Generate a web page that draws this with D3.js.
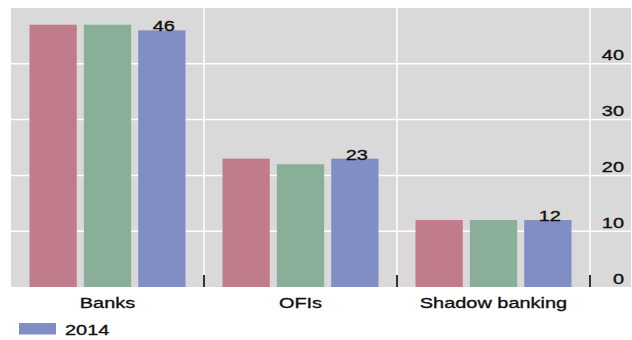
<!DOCTYPE html>
<html>
<head>
<meta charset="utf-8">
<script src="https://cdn.jsdelivr.net/npm/d3@7"></script>
<style>
  html, body { margin: 0; padding: 0; background: #fff; }
  svg { display: block; }
  text { font-family: "Liberation Sans", Arial, sans-serif; fill: #111; stroke: #111; stroke-width: 0.35px; }
</style>
</head>
<body>
<svg id="chart" width="632" height="340"></svg>
<script>
// Sector shares, by year
const categories = ["Banks", "OFIs", "Shadow banking"];
const seriesNames = ["2012", "2013", "2014"];
const values2012 = [47, 23, 12];
const values2013 = [47, 22, 12];
const values2014 = [46, 23, 12];
const yTicks = [0, 10, 20, 30, 40];
const labelledSeries = "2014";
const legendSeries = ["2014"];

const seriesValues = { "2012": values2012, "2013": values2013, "2014": values2014 };
const colors = { "2012": "#c17c8c", "2013": "#8aaf98", "2014": "#818ec6" };

const svg = d3.select("#chart");
const plot = { left: 11, right: 631, top: 8, bottom: 287 };
const bandsRight = 590;
const sx = 1.33; // horizontal text stretch

const x0 = d3.scaleBand().domain(categories).range([plot.left, bandsRight]).paddingInner(0).paddingOuter(0);
const x1 = d3.scaleBand().domain(seriesNames).range([0, x0.bandwidth()]).paddingInner(0.13).paddingOuter(0.34);
const y = d3.scaleLinear().domain([0, 50]).range([plot.bottom, plot.top]);

// panel background
svg.append("rect")
  .attr("x", plot.left).attr("y", plot.top)
  .attr("width", plot.right - plot.left).attr("height", plot.bottom - plot.top)
  .attr("fill", "#d9d9d9");

// horizontal gridlines
svg.append("g").selectAll("line").data(yTicks.filter(d => d > 0)).join("line")
  .attr("x1", plot.left).attr("x2", plot.right)
  .attr("y1", d => y(d)).attr("y2", d => y(d))
  .attr("stroke", "#fff").attr("stroke-width", 1.5);

// category separators
const seps = categories.slice(1).map(c => x0(c)).concat([bandsRight]);
svg.append("g").selectAll("line").data(seps).join("line")
  .attr("x1", d => d).attr("x2", d => d)
  .attr("y1", plot.top).attr("y2", plot.bottom)
  .attr("stroke", "#fff").attr("stroke-width", 1.5);

// bars
const groups = svg.append("g").selectAll("g").data(categories).join("g")
  .attr("transform", c => `translate(${x0(c)},0)`);
groups.selectAll("rect")
  .data((c, i) => seriesNames.map(s => ({ s, v: seriesValues[s][i] })))
  .join("rect")
  .attr("x", d => x1(d.s))
  .attr("width", x1.bandwidth())
  .attr("y", d => y(d.v))
  .attr("height", d => y(0) - y(d.v))
  .attr("fill", d => colors[d.s]);

// value labels on the latest series
groups.append("text")
  .datum((c, i) => seriesValues[labelledSeries][i])
  .attr("text-anchor", "middle")
  .attr("font-size", 15)
  .attr("transform", d => `translate(${x1(labelledSeries) + x1.bandwidth() / 2 + 2},${y(d) + 1}) scale(${sx},1)`)
  .text(d => d);

// tick marks at the separators
svg.append("g").selectAll("line").data(seps).join("line")
  .attr("x1", d => d).attr("x2", d => d)
  .attr("y1", plot.bottom - 12).attr("y2", plot.bottom)
  .attr("stroke", "#333").attr("stroke-width", 2);

// y axis labels on the right, sitting above each gridline
svg.append("g").selectAll("text").data(yTicks).join("text")
  .attr("text-anchor", "end")
  .attr("font-size", 15)
  .attr("transform", d => `translate(624,${y(d) - 3.5}) scale(${sx},1)`)
  .text(d => d);

// category labels
svg.append("g").selectAll("text").data(categories).join("text")
  .attr("text-anchor", "middle")
  .attr("font-size", 15)
  .attr("transform", c => `translate(${x0(c) + x0.bandwidth() / 2},308) scale(${sx},1)`)
  .text(c => c);

// legend
const legend = svg.append("g").selectAll("g").data(legendSeries).join("g")
  .attr("transform", (d, i) => `translate(19,${323 + i * 18})`);
legend.append("rect").attr("width", 37).attr("height", 11.5).attr("fill", d => colors[d]);
legend.append("text")
  .attr("font-size", 15)
  .attr("transform", `translate(46,11.5) scale(${sx},1)`)
  .text(d => d);
</script>
</body>
</html>
